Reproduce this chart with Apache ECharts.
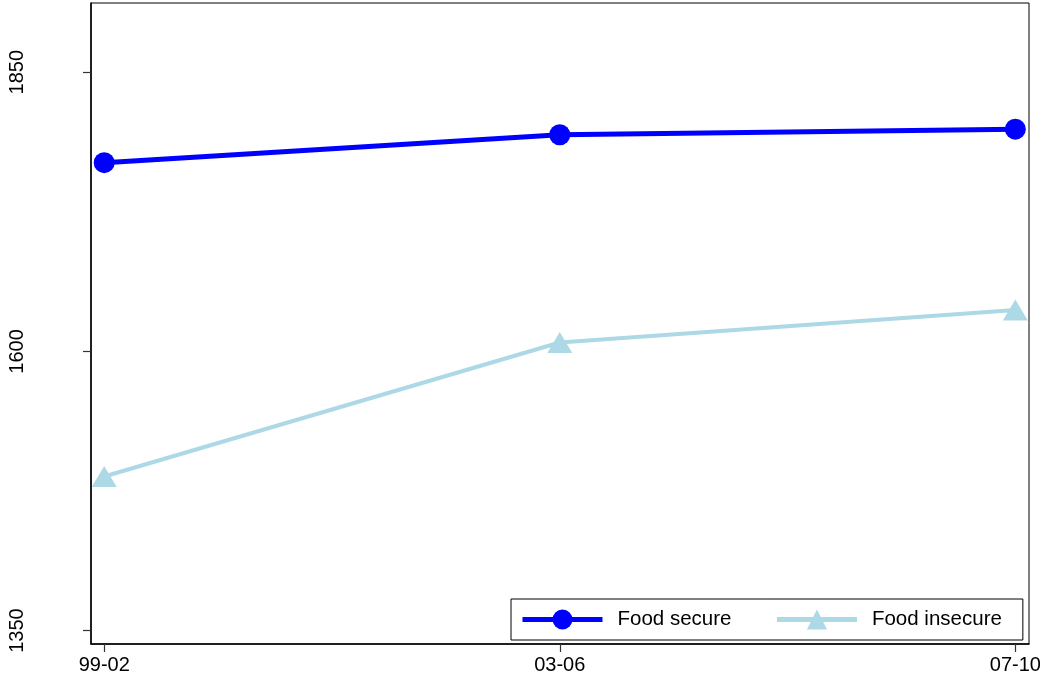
<!DOCTYPE html>
<html><head><meta charset="utf-8">
<script src="https://cdn.jsdelivr.net/npm/echarts@6/dist/echarts.min.js"></script>
<style>html,body{margin:0;padding:0;background:#fff}#c{width:1045px;height:682px}</style>
</head><body><div id="c"></div>
<script>
const categories = ['99-02', '03-06', '07-10'];
const foodSecure = [1769, 1794, 1799];
const foodInsecure = [1488, 1608, 1637];
const yTicks = [1350, 1600, 1850];

const FONT = '"Liberation Sans", Arial, sans-serif';
const chart = echarts.init(document.getElementById('c'), null, {renderer: 'canvas'});
const xIdx = categories.map((c, i) => i);
chart.setOption({
  animation: false,
  backgroundColor: '#fff',
  grid: {left: 91, right: 16, top: 3, bottom: 38, show: true, borderColor: '#000', borderWidth: 1},
  xAxis: {
    type: 'value', min: -0.029, max: 2.03,
    splitLine: {show: false},
    axisLine: {show: true, onZero: false, lineStyle: {color: '#000', width: 1.5}},
    axisTick: {show: true, customValues: xIdx, length: 8, lineStyle: {color: '#333', width: 1.2}},
    axisLabel: {customValues: xIdx, formatter: v => categories[Math.round(v)] || '', color: '#000', fontSize: 20, fontFamily: FONT, margin: 11}
  },
  yAxis: {
    type: 'value', min: 1338, max: 1912,
    splitLine: {show: false},
    axisLine: {show: true, onZero: false, lineStyle: {color: '#000', width: 1.5}},
    axisTick: {show: true, customValues: yTicks, length: 8, lineStyle: {color: '#333', width: 1.2}},
    axisLabel: {customValues: yTicks, formatter: v => String(v), rotate: 90, color: '#000', fontSize: 20, fontFamily: FONT, margin: 64}
  },
  legend: {
    left: 511, top: 599,
    padding: [10, 21, 10, 9],
    itemWidth: 80, itemHeight: 25, itemGap: 43,
    borderColor: '#000', borderWidth: 1, backgroundColor: '#fff',
    textStyle: {fontSize: 20.5, fontFamily: FONT, color: '#000', padding: [0, 0, 0, 10]},
    data: [
      {name: 'Food secure', lineStyle: {width: 5}},
      {name: 'Food insecure', lineStyle: {width: 5}}
    ]
  },
  series: [
    {name: 'Food secure', type: 'line', data: foodSecure.map((v, i) => [i, v]),
     symbol: 'circle', symbolSize: 21, color: '#0000ff',
     lineStyle: {width: 5, color: '#0000ff'}, itemStyle: {color: '#0000ff'}},
    {name: 'Food insecure', type: 'line', data: foodInsecure.map((v, i) => [i, v]),
     symbol: 'triangle', symbolSize: [25, 21], color: '#add8e6',
     lineStyle: {width: 4, color: '#add8e6'}, itemStyle: {color: '#add8e6'}}
  ]
});
</script></body></html>
